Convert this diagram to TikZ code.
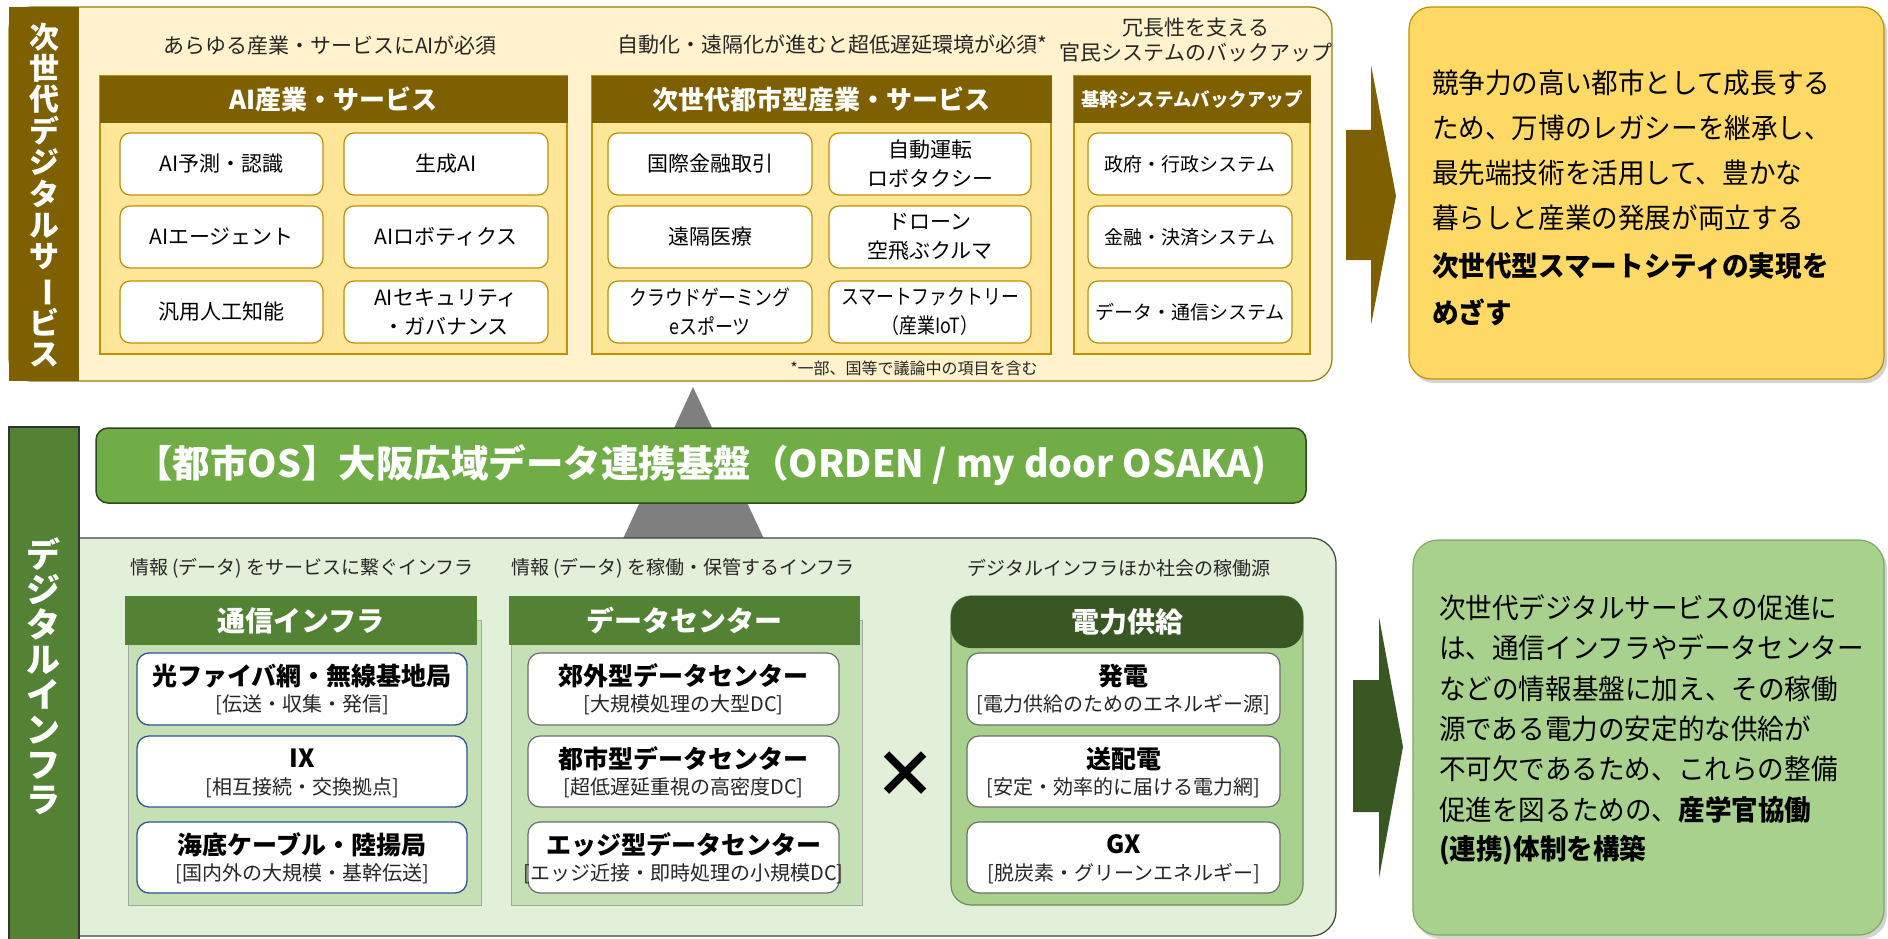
\documentclass[tikz,border=0pt]{standalone}
\usepackage{fontspec}
\usepackage{graphicx}
\setmainfont{Noto Sans CJK JP}
\newfontfamily\condjp{Noto Sans CJK JP}[FakeStretch=0.85]
\newfontfamily\bigjp{Noto Sans CJK JP}[FakeStretch=0.95]
\usetikzlibrary{shadows}
\definecolor{cream}{HTML}{FFF2CC}
\definecolor{topbd}{HTML}{9C7A10}
\definecolor{brn}{HTML}{7F6000}
\definecolor{gold}{HTML}{BF9000}
\definecolor{lyel}{HTML}{FFE699}
\definecolor{yel}{HTML}{FFD966}
\definecolor{gdark}{HTML}{385723}
\definecolor{gmid}{HTML}{548235}
\definecolor{gos}{HTML}{70AD47}
\definecolor{glight}{HTML}{A9D18E}
\definecolor{gpale}{HTML}{C5E0B4}
\definecolor{gbg}{HTML}{E2F0D9}
\definecolor{bluebd}{HTML}{2F5597}
\definecolor{tri}{HTML}{7F7F7F}
\definecolor{txt}{HTML}{262626}
\definecolor{bbd}{HTML}{404040}
\definecolor{osbd}{HTML}{2E4A1A}
\definecolor{pwbd}{HTML}{6E8B5A}
\definecolor{gbd}{HTML}{7FA860}
\newcommand{\fsz}[2]{\fontsize{#1}{#2}\selectfont}
\newcommand{\mkbox}[7]{\node[#1, minimum width={(#5)-(#3)}, minimum height={(#6)-(#4)}] (#2) at ({((#3)+(#5))/2},{((#4)+(#6))/2}) {#7};}
\newcommand{\infra}[8]{%
  \mkbox{#1}{#2}{#3}{#4}{#5}{#6}{}
  \node[ttl] (#2-t) at ({((#3)+(#5))/2},{((#4)+(#6))/2-13}) {#7};
  \node[subt] (#2-s) at ({((#3)+(#5))/2},{((#4)+(#6))/2+16}) {#8};}
\tikzset{
  every node/.style={inner sep=0pt, outer sep=0pt, text=txt},
  sub/.style={font=\fsz{21}{25}},
  subb/.style={font=\fsz{19}{23}},
  vtext/.style={align=center, text=white},
  hdrT/.style={fill=brn, draw=brn, text=white, font=\bfseries\fsz{26}{30}},
  bodyT/.style={fill=lyel, draw=gold, line width=1.2pt},
  cardT/.style={fill=white, draw=gold, line width=1.2pt, rounded corners=10pt, align=center, font=\fsz{21}{29}, text=black},
  cardK/.style={cardT, font=\fsz{19}{23}},
  hdrG/.style={fill=gmid, text=white, font=\bfseries\fsz{28}{32}},
  cardB/.style={fill=white, draw=bluebd, line width=1.3pt, rounded corners=12pt},
  cardG/.style={fill=white, draw=gray!85!black, line width=1.2pt, rounded corners=12pt},
  ttl/.style={font=\bfseries\fsz{25}{28}, text=black},
  subt/.style={font=\fsz{20}{24}},
  gtext/.style={anchor=west, font=\bigjp\fsz{28}{34}, text=black},
  gbold/.style={anchor=west, font=\bigjp\bfseries\fsz{28}{34}, text=black},
  shad/.style={drop shadow={opacity=0.35, shadow xshift=3pt, shadow yshift=-4pt}}
}
\begin{document}
\begin{tikzpicture}[x=1pt,y=-1pt]
\useasboundingbox (0,0) rectangle (1888,939);
% ===== top section =====
\mkbox{fill=cream, draw=topbd, line width=1.2pt, rounded corners=22pt}{topbox}{9}{7}{1332}{381}{}
\mkbox{fill=brn}{strip1}{9}{7}{79}{381}{}
\node[vtext, font=\bfseries\fsz{30}{31.4}] (strip1t) at (44,195) {次\\世\\代\\デ\\ジ\\タ\\ル\\サ\\\rotatebox[origin=c]{-90}{ー}\\ビ\\ス};
\node[sub] (s1) at (330,45) {あらゆる産業・サービスにAIが必須};
\node[sub] (s2) at (832,45) {自動化・遠隔化が進むと超低遅延環境が必須*};
\node[sub] (s3a) at (1196,28) {冗長性を支える};
\node[sub] (s3b) at (1196,53) {官民システムのバックアップ};
% AI
\mkbox{bodyT}{aiB}{100}{76}{567}{354}{}
\mkbox{hdrT}{aiH}{100}{76}{567}{122}{AI産業・サービス}
\mkbox{cardT}{ai1}{120}{133}{323}{195}{AI予測・認識}
\mkbox{cardT}{ai2}{344}{133}{548}{195}{生成AI}
\mkbox{cardT}{ai3}{120}{206}{323}{268}{AIエージェント}
\mkbox{cardT}{ai4}{344}{206}{548}{268}{AIロボティクス}
\mkbox{cardT}{ai5}{120}{281}{323}{343}{汎用人工知能}
\mkbox{cardT}{ai6}{344}{281}{548}{343}{AIセキュリティ\\・ガバナンス}
% city
\mkbox{bodyT}{cityB}{592}{76}{1051}{354}{}
\mkbox{hdrT}{cityH}{592}{76}{1051}{122}{次世代都市型産業・サービス}
\mkbox{cardT}{c1}{608}{133}{812}{195}{国際金融取引}
\mkbox{cardT}{c2}{829}{133}{1031}{195}{自動運転\\ロボタクシー}
\mkbox{cardT}{c3}{608}{206}{812}{268}{遠隔医療}
\mkbox{cardT}{c4}{829}{206}{1031}{268}{ドローン\\空飛ぶクルマ}
\mkbox{cardT, font=\condjp\fsz{21}{29}}{c5}{608}{281}{812}{343}{クラウドゲーミング\\eスポーツ}
\mkbox{cardT, font=\condjp\fsz{21}{29}}{c6}{829}{281}{1031}{343}{スマートファクトリー\\（産業IoT）}
% backup
\mkbox{bodyT}{bkB}{1074}{76}{1310}{354}{}
\mkbox{hdrT, font=\bfseries\fsz{18.5}{22}}{bkH}{1074}{76}{1310}{122}{基幹システムバックアップ}
\mkbox{cardK}{b1}{1088}{133}{1292}{195}{政府・行政システム}
\mkbox{cardK}{b2}{1088}{206}{1292}{268}{金融・決済システム}
\mkbox{cardK}{b3}{1088}{281}{1292}{343}{データ・通信システム}
\node[font=\fsz{16}{19}] (fn) at (914,368) {*一部、国等で議論中の項目を含む};
% brown arrow
\fill[brn] (1346,130) -- (1371,130) -- (1371,65) -- (1396,196) -- (1371,325) -- (1371,260) -- (1346,260) -- cycle;
% goal box (yellow)
\mkbox{fill=yel, draw=gold, line width=1.2pt, rounded corners=22pt, shad}{goalA}{1409}{7}{1884}{379}{}
\node[gtext] (ya1) at (1432,83) {競争力の高い都市として成長する};
\node[gtext] (ya2) at (1432,128) {ため、万博のレガシーを継承し、};
\node[gtext] (ya3) at (1432,173) {最先端技術を活用して、豊かな};
\node[gtext] (ya4) at (1432,218) {暮らしと産業の発展が両立する};
\node[gbold] (ya5) at (1432,266) {次世代型スマートシティの実現を};
\node[gbold] (ya6) at (1432,312) {めざす};
% ===== bottom section =====
\fill[tri] (693,387) -- (622,541) -- (765,541) -- cycle;
\mkbox{fill=gbg, draw=bbd, line width=1.2pt, rounded corners=25pt}{botbox}{40}{538}{1336}{936}{}
\mkbox{fill=gmid, draw=black!80, line width=1.5pt}{strip2}{9}{427}{79}{945}{}
\node[vtext, font=\bfseries\fsz{34}{35}] (strip2t) at (44,676) {デ\\ジ\\タ\\ル\\イ\\ン\\フ\\ラ};
\mkbox{fill=gos, draw=osbd, line width=1.5pt, rounded corners=12pt, text=white, font=\bfseries\fsz{37.5}{42}}{osbar}{96}{428}{1306}{503}{【都市OS】大阪広域データ連携基盤（ORDEN / my door OSAKA)}
\node[subb] (bs1) at (302,568) {情報 (データ) をサービスに繋ぐインフラ};
\node[subb] (bs2) at (683,568) {情報 (データ) を稼働・保管するインフラ};
\node[subb] (bs3) at (1119,568) {デジタルインフラほか社会の稼働源};
% comm
\mkbox{fill=gpale, draw=gray!70, line width=1pt}{commB}{128}{620}{481}{905}{}
\mkbox{hdrG}{commH}{125}{596}{477}{645}{通信インフラ}
\infra{cardB}{cm1}{137}{653}{467}{725}{光ファイバ網・無線基地局}{[伝送・収集・発信]}
\infra{cardB}{cm2}{137}{736}{467}{807}{IX}{[相互接続・交換拠点]}
\infra{cardB}{cm3}{137}{822}{467}{893}{海底ケーブル・陸揚局}{[国内外の大規模・基幹伝送]}
% data center
\mkbox{fill=gpale, draw=gray!70, line width=1pt}{dcB}{511}{620}{862}{905}{}
\mkbox{hdrG}{dcH}{509}{596}{860}{645}{データセンター}
\infra{cardG}{dc1}{528}{653}{839}{725}{郊外型データセンター}{[大規模処理の大型DC]}
\infra{cardG}{dc2}{528}{736}{839}{807}{都市型データセンター}{[超低遅延重視の高密度DC]}
\infra{cardG}{dc3}{528}{822}{839}{893}{エッジ型データセンター}{[エッジ近接・即時処理の小規模DC]}
\node[font=\bfseries\fsz{64}{68}, text=black] (times) at (905,775) {×};
% power
\mkbox{fill=glight, draw=pwbd, line width=1.2pt, rounded corners=20pt}{pwB}{951}{596}{1303}{905}{}
\mkbox{fill=gdark, rounded corners=20pt, text=white, font=\bfseries\fsz{28}{32}}{pwH}{951}{596}{1303}{648}{電力供給}
\infra{cardG}{pw1}{967}{653}{1280}{725}{発電}{[電力供給のためのエネルギー源]}
\infra{cardG}{pw2}{967}{736}{1280}{807}{送配電}{[安定・効率的に届ける電力網]}
\infra{cardG}{pw3}{967}{822}{1280}{893}{GX}{[脱炭素・グリーンエネルギー]}
% green arrow
\fill[gdark] (1353,680) -- (1379,680) -- (1379,617) -- (1403,747) -- (1379,878) -- (1379,812) -- (1353,812) -- cycle;
% goal box (green)
\mkbox{fill=glight, draw=gbd, line width=1.2pt, rounded corners=25pt, shad}{goalB}{1413}{540}{1884}{935}{}
\node[gtext] (gb1) at (1439,608) {次世代デジタルサービスの促進に};
\node[gtext] (gb2) at (1439,648) {は、通信インフラやデータセンター};
\node[gtext] (gb3) at (1439,689) {などの情報基盤に加え、その稼働};
\node[gtext] (gb4) at (1439,729) {源である電力の安定的な供給が};
\node[gtext] (gb5) at (1439,769) {不可欠であるため、これらの整備};
\node[gtext] (gb6) at (1439,810) {促進を図るための、{\bfseries 産学官協働}};
\node[gbold] (gb7) at (1439,850) {(連携)体制を構築};
\end{tikzpicture}
\end{document}
